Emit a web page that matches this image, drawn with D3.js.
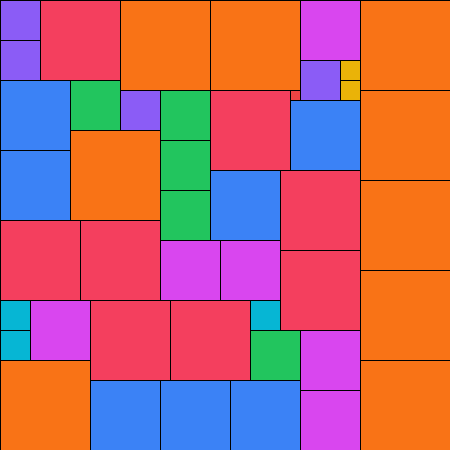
<!DOCTYPE html>
<html>
<head>
<meta charset="utf-8">
<script src="https://cdn.jsdelivr.net/npm/d3@7"></script>
<style>
  html, body { margin: 0; padding: 0; background: #fff; }
  svg { display: block; }
</style>
</head>
<body>
<div id="chart"></div>
<script>
// squares, in grid units (1 unit = 10px): left column, top row, side
var col  = [0, 0, 4, 12, 21, 30, 36, 30, 34, 34, 0, 7, 12, 16, 21, 29, 29, 36,
            0, 7, 16, 16, 21, 28, 36, 0, 8, 16, 22, 28, 36, 0, 0, 3, 9, 17, 25, 25, 30, 36,
            0, 9, 16, 23, 30];
var row  = [0, 4, 0, 0, 0, 0, 0, 6, 6, 8, 8, 8, 9, 9, 9, 9, 10, 9,
            15, 13, 14, 19, 17, 17, 18, 22, 22, 24, 24, 25, 27, 30, 33, 30, 30, 30, 30, 33, 33, 36,
            36, 38, 38, 38, 39];
var side = [4, 4, 8, 9, 9, 6, 9, 4, 2, 2, 7, 5, 4, 5, 8, 1, 7, 9,
            7, 9, 5, 5, 7, 8, 9, 8, 8, 6, 6, 8, 9, 3, 3, 6, 8, 8, 3, 5, 6, 9,
            9, 7, 7, 7, 6];

var sizes  = [9, 8, 7, 6, 5, 4, 3, 2, 1];
var colors = ["#f97316", "#f43f5e", "#3b82f6", "#d946ef", "#22c55e",
              "#8b5cf6", "#06b6d4", "#eab308", "#ef4444"];

var width = 450, height = 450;

var squares = side.map(function(s, i){
    return {x: col[i], y: row[i], s: s};
});

var x = d3.scaleLinear().domain([0, 45]).range([0, width]);
var y = d3.scaleLinear().domain([0, 45]).range([0, height]);
var color = d3.scaleOrdinal().domain(sizes).range(colors);

var svg = d3.select("#chart").append("svg")
    .attr("width", width)
    .attr("height", height);

svg.selectAll("rect")
    .data(squares)
    .enter().append("rect")
    .attr("x", function(d){ return x(d.x) + 0.5; })
    .attr("y", function(d){ return y(d.y) + 0.5; })
    .attr("width", function(d){ return x(d.s) - x(0); })
    .attr("height", function(d){ return y(d.s) - y(0); })
    .attr("fill", function(d){ return color(d.s); })
    .attr("stroke", "#000")
    .attr("stroke-width", 1);
</script>
</body>
</html>
